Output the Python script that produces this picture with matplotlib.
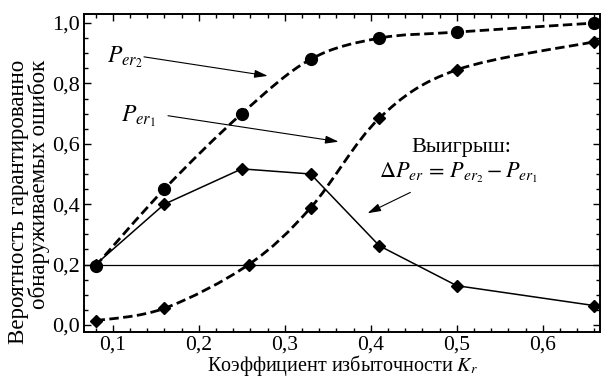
import numpy as np
import matplotlib
matplotlib.use('Agg')
import matplotlib.pyplot as plt
from matplotlib.path import Path
from matplotlib.patches import PathPatch
from matplotlib.ticker import MultipleLocator, FuncFormatter

# redundancy coefficient K_r and probabilities
kr = [0.08, 0.16, 0.25, 0.33, 0.41, 0.50, 0.66]
kr_p1 = [0.08, 0.16, 0.258, 0.33, 0.41, 0.50, 0.66]
p_er2 = [0.195, 0.45, 0.70, 0.88, 0.95, 0.97, 1.00]
p_er1 = [0.014, 0.055, 0.20, 0.388, 0.685, 0.845, 0.938]
gain = [0.20, 0.40, 0.517, 0.50, 0.262, 0.13, 0.064]
threshold = 0.2

plt.rcParams['font.family'] = ['Liberation Serif', 'DejaVu Serif']
plt.rcParams['mathtext.fontset'] = 'stix'
plt.rcParams['font.size'] = 16


def smooth_path(xs, ys):
    # Catmull-Rom segments as cubic Bezier curves through the points
    pts = np.column_stack([xs, ys])
    ext = np.vstack([pts[0], pts, pts[-1]])
    verts = [pts[0]]
    codes = [Path.MOVETO]
    for i in range(1, len(ext) - 2):
        p0, p1, p2, p3 = ext[i - 1], ext[i], ext[i + 1], ext[i + 2]
        verts += [p1 + (p2 - p0) / 6, p2 - (p3 - p1) / 6, p2]
        codes += [Path.CURVE4] * 3
    return Path(verts, codes)


fig = plt.figure(figsize=(6.05, 3.78), dpi=100)
ax = fig.add_axes([0.139, 0.122, 0.853, 0.841])

for xs, ys in ((kr, p_er2), (kr_p1, p_er1)):
    patch = PathPatch(smooth_path(xs, ys), fill=False, color='black', lw=2.0,
                      linestyle=(0, (3.4, 1.6)), capstyle='butt')
    ax.add_patch(patch)

ax.plot(kr, p_er2, 'o', color='black', ms=8.5, zorder=3)
ax.plot(kr_p1, p_er1, 'D', color='black', ms=6.5, zorder=3)
ax.plot(kr, gain, '-D', color='black', lw=1.1, ms=6.5, zorder=3)
ax.axhline(threshold, color='black', lw=0.9)

arrow = dict(arrowstyle='-|>,head_length=0.5,head_width=0.15', color='black',
             lw=0.8, shrinkA=0, shrinkB=0)
ax.text(0.1144, 0.888, r'$P_{er_2}$', ha='center', va='center', fontsize=17)
ax.annotate('', xy=(0.2802, 0.825), xytext=(0.1363, 0.888), arrowprops=arrow)
ax.text(0.1294, 0.690, r'$P_{er_1}$', ha='center', va='center', fontsize=17)
ax.annotate('', xy=(0.3626, 0.607), xytext=(0.1642, 0.693), arrowprops=arrow)
ax.text(0.5052, 0.587, 'Выигрыш:', ha='center', va='center', fontsize=16)
ax.text(0.5018, 0.505, r'$\Delta P_{er}\,=\,P_{er_2}-P_{er_1}$', ha='center',
        va='center', fontsize=16)
ax.annotate('', xy=(0.3962, 0.370), xytext=(0.4460, 0.439), arrowprops=arrow)

ax.set_xlim(1 / 15, 2 / 3)
ax.set_ylim(-0.023, 1.03)
ax.xaxis.set_major_locator(MultipleLocator(0.1))
ax.xaxis.set_minor_locator(MultipleLocator(0.02))
ax.yaxis.set_major_locator(MultipleLocator(0.2))
ax.yaxis.set_minor_locator(MultipleLocator(0.05))
comma = FuncFormatter(lambda v, _: f'{v:.1f}'.replace('.', ','))
ax.xaxis.set_major_formatter(comma)
ax.yaxis.set_major_formatter(comma)
ax.tick_params(which='both', direction='in', top=True, right=True, width=1.0)
ax.tick_params(which='major', length=5, pad=3, labelsize=16)
ax.tick_params(axis='x', which='major', pad=2.5, labelsize=15.5)
ax.tick_params(which='minor', length=3)
for s in ax.spines.values():
    s.set_linewidth(1.4)

ax.set_xlabel('Коэффициент избыточности $K_r$', fontsize=14.5, labelpad=-1)
ax.set_ylabel('Вероятность гарантированно\nобнаруживаемых ошибок', fontsize=16.5,
              linespacing=0.95, va='center', ha='center', multialignment='right')
ax.yaxis.set_label_coords(-0.106, 0.41)

fig.savefig('out.png', dpi=100)
